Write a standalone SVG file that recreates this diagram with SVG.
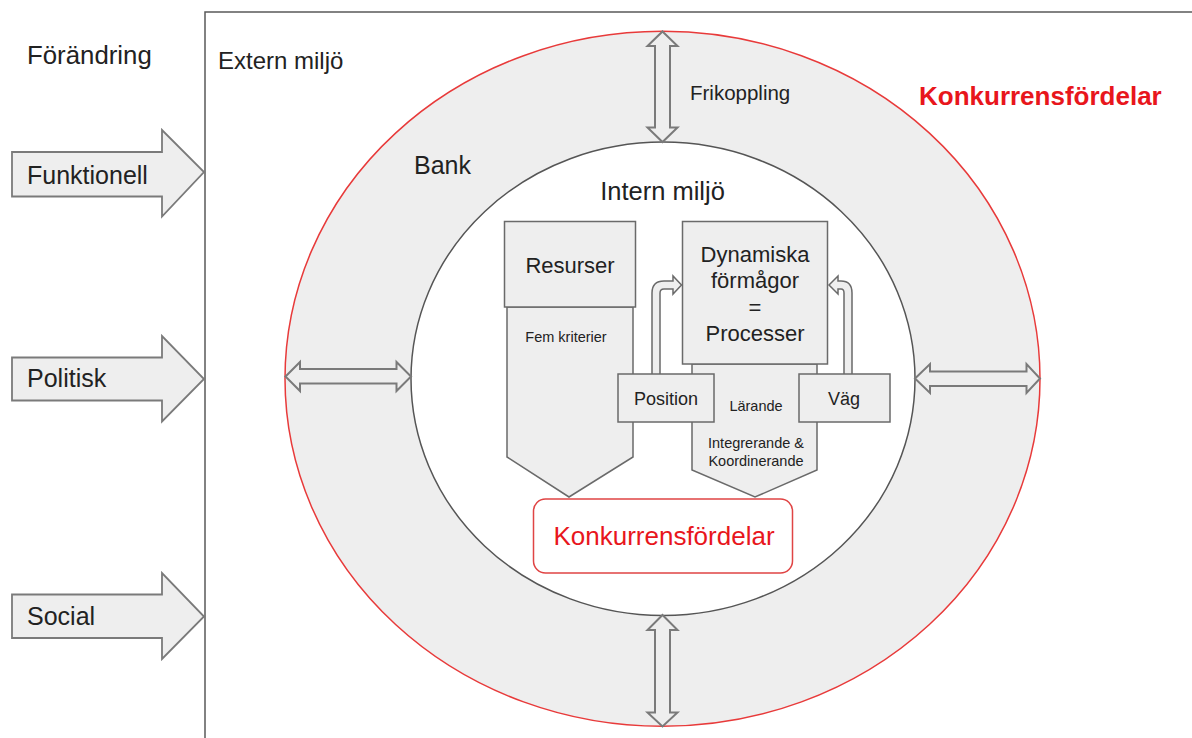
<svg xmlns="http://www.w3.org/2000/svg" width="1192" height="738" viewBox="0 0 1192 738">
<style>
text{font-family:"Liberation Sans",Arial,sans-serif;fill:#222}
.big{font-size:25px}
.mid{font-size:22px}
.sm{font-size:14.5px}
.box{fill:#eeeeee;stroke:#6a6a6a;stroke-width:1.5}
.arr{fill:#eeeeee;stroke:#7a7a7a;stroke-width:2;stroke-linejoin:miter}
.blk{fill:#eeeeee;stroke:#7a7a7a;stroke-width:1.8}
.red{fill:#e8161c}
</style>
<rect width="1192" height="738" fill="#ffffff"/>
<g id="frame">
<path d="M205,738 L205,12 L1192,12" fill="none" stroke="#5a5a5a" stroke-width="1.5"/>
<text class="big" x="27" y="64" style="font-size:25.8px">Förändring</text>
<text class="big" x="218" y="69" style="font-size:24px">Extern miljö</text>
<text x="919" y="105" style="font-size:26px;font-weight:bold" class="red">Konkurrensfördelar</text>
</g>
<g id="bank">
<ellipse cx="662.5" cy="378.8" rx="377.5" ry="347.5" fill="#eeeeee" stroke="#e83a3a" stroke-width="1.5"/>
<text class="big" x="414" y="174">Bank</text>
<text x="690" y="100" style="font-size:20.5px">Frikoppling</text>
</g>
<g id="intern">
<ellipse cx="663" cy="378.8" rx="252" ry="236.7" fill="#ffffff" stroke="#555555" stroke-width="1.5"/>
<text class="big" x="662.5" y="200" text-anchor="middle" style="font-size:25.5px">Intern miljö</text>
</g>
<g id="funktionell">
<path class="blk" d="M12,152 L162,152 L162,130 L204,172 L162,216.5 L162,196.5 L12,196.5 Z"/>
<text class="big" x="27" y="184">Funktionell</text>
</g>
<g id="politisk">
<path class="blk" d="M12,357.5 L162,357.5 L162,336 L204,379 L162,421.5 L162,400.5 L12,400.5 Z"/>
<text class="big" x="27" y="387">Politisk</text>
</g>
<g id="social">
<path class="blk" d="M12,594.5 L162,594.5 L162,573 L204,616.5 L162,659 L162,638 L12,638 Z"/>
<text class="big" x="27" y="625">Social</text>
</g>
<g id="resurser">
<path class="box" d="M507,307 L633,307 L633,457 L569,497 L507,457 Z"/>
<rect class="box" x="504.5" y="221.5" width="131" height="85.5"/>
<text class="mid" x="570" y="273" text-anchor="middle">Resurser</text>
<text class="sm" x="566" y="342" text-anchor="middle">Fem kriterier</text>
</g>
<g id="dynamiska">
<path class="box" d="M692,364 L817,364 L817,470 L755,497 L692,470 Z"/>
<rect class="box" x="682.5" y="221.5" width="145" height="142.5"/>
<text class="mid" x="755" y="261.5" text-anchor="middle">Dynamiska</text>
<text class="mid" x="755" y="288" text-anchor="middle">förmågor</text>
<text class="mid" x="755" y="314.5" text-anchor="middle">=</text>
<text class="mid" x="755" y="341" text-anchor="middle">Processer</text>
<text class="sm" x="756" y="410.5" text-anchor="middle">Lärande</text>
<text class="sm" x="756" y="448" text-anchor="middle">Integrerande &amp;</text>
<text class="sm" x="756" y="465.5" text-anchor="middle">Koordinerande</text>
</g>
<g id="connectors">
<path class="arr" d="M662.5,31.5 L677.5,46 L670,46 L670,127.5 L677.5,127.5 L662.5,142 L647.5,127.5 L655,127.5 L655,46 L647.5,46 Z"/>
<path class="arr" d="M662.5,615 L677.5,630 L670,630 L670,712.5 L677.5,712.5 L662.5,726.5 L647.5,712.5 L655,712.5 L655,630 L647.5,630 Z"/>
<path class="arr" d="M285.5,376.5 L300,362 L300,369 L396.5,369 L396.5,362 L411,376.5 L396.5,391 L396.5,383.5 L300,383.5 L300,391 Z"/>
<path class="arr" d="M915,378.5 L930,364 L930,371.5 L1026.5,371.5 L1026.5,364 L1040,378.5 L1026.5,393 L1026.5,386 L930,386 L930,393 Z"/>
<path class="box" d="M652,376 L652,293 Q652,281 664,281 L673,281 L673,276 L681.5,285 L673,294 L673,289 L664,289 Q660,289 660,293 L660,376 Z"/>
<path class="box" d="M852,376 L852,293 Q852,281 841,281 L838,281 L838,276 L829,285 L838,294 L838,289 L841,289 Q844,289 844,293 L844,376 Z"/>
</g>
<g id="position">
<rect class="box" x="618" y="374" width="96" height="48"/>
<text x="666" y="405" text-anchor="middle" style="font-size:18px">Position</text>
</g>
<g id="vag">
<rect class="box" x="799" y="374" width="91" height="48"/>
<text x="844" y="405" text-anchor="middle" style="font-size:18px">Väg</text>
</g>
<g id="konkurrens">
<rect x="533.5" y="499" width="259" height="74" rx="12" fill="#ffffff" stroke="#e04444" stroke-width="1.5"/>
<text x="664" y="544.5" text-anchor="middle" class="red" style="font-size:26px">Konkurrensfördelar</text>
</g>
</svg>
